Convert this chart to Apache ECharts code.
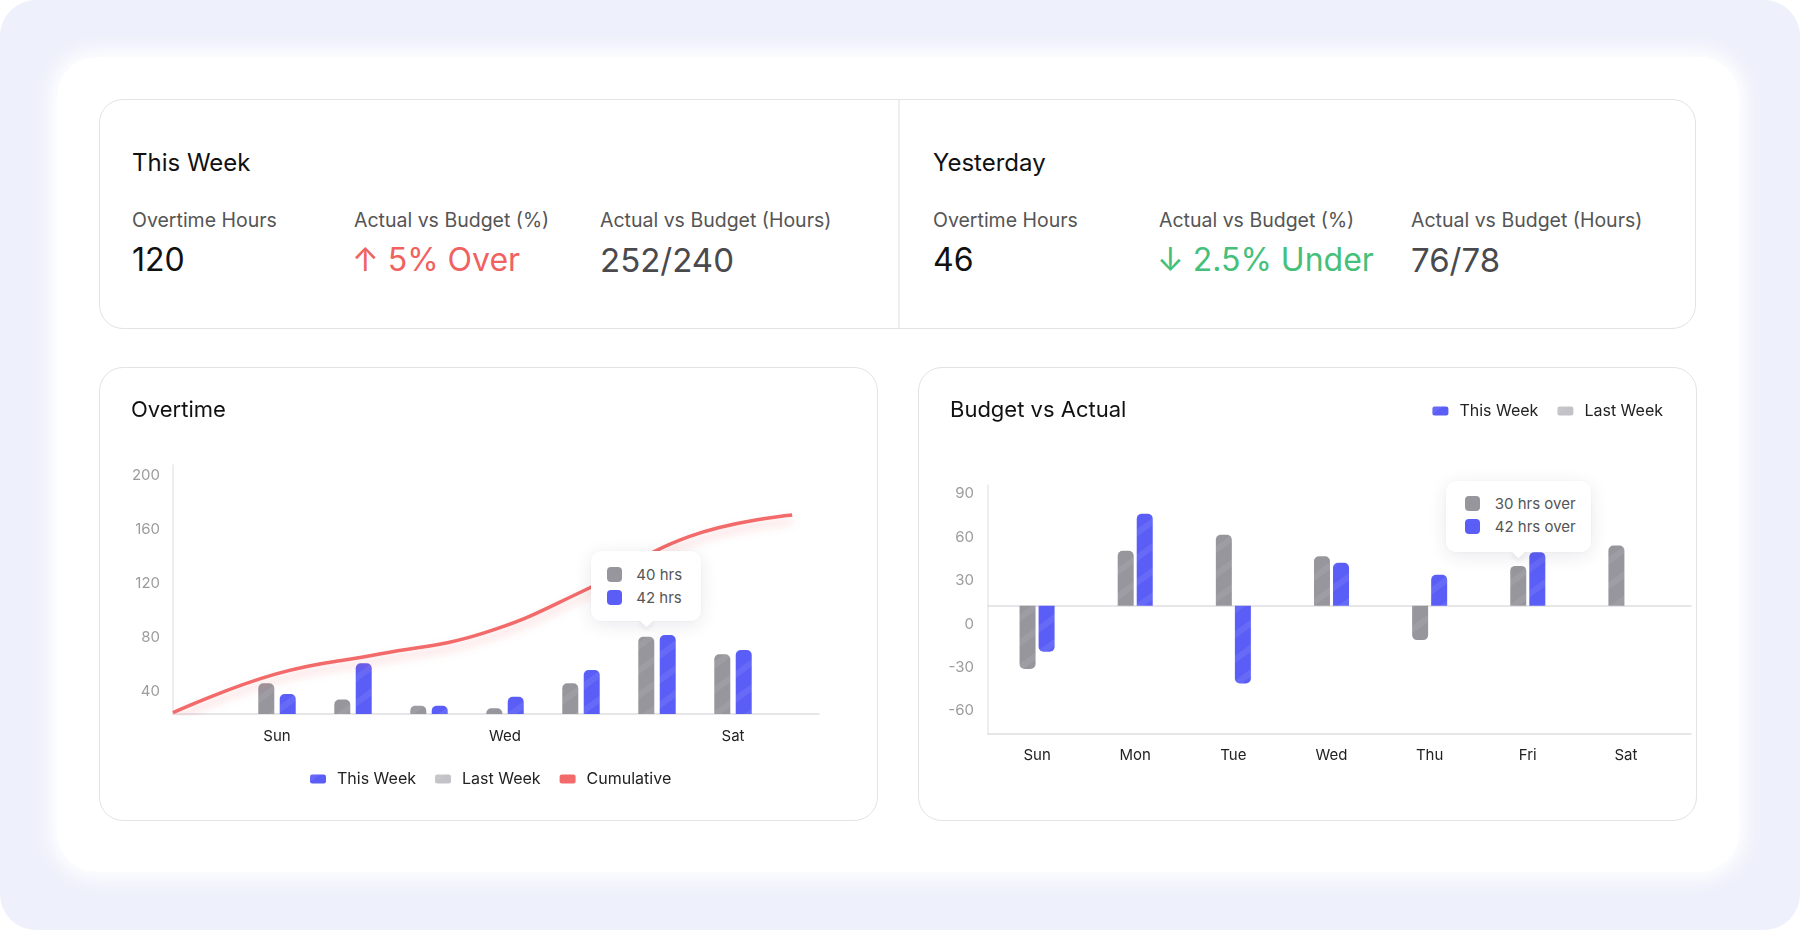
<!DOCTYPE html>
<html><head><meta charset="utf-8">
<script src="https://cdn.jsdelivr.net/npm/echarts@6/dist/echarts.min.js"></script>
<style>
html,body{margin:0;padding:0}
body{width:1800px;height:930px;background:#fff;font-family:Inter,'Noto Sans',sans-serif;overflow:hidden;position:relative}
.bg{position:absolute;left:0;top:0;width:1800px;height:930px;background:#eef0fb;border-radius:36px}
.panel{position:absolute;left:57px;top:57px;width:1682px;height:815px;background:#fff;border-radius:40px;box-shadow:0 0 18px 8px rgba(255,255,255,0.95)}
.card{position:absolute;background:#fff;border:1.5px solid #e3e3e7;border-radius:24px;box-sizing:border-box}
.t{position:absolute;white-space:nowrap}
.h{font-size:24px;color:#111;height:30px;line-height:30px}
.lbl{font-size:19.5px;color:#555;height:24px;line-height:24px}
.val{font-size:32px;height:40px;line-height:40px;color:#111}
.chart{position:absolute}
.tip{position:absolute;background:#fff;border-radius:10px;box-shadow:0 4px 18px rgba(40,40,80,0.10),0 0 3px rgba(0,0,0,0.05);font-size:15px;color:#555}
.tip .sq{position:absolute;width:15px;height:15px;border-radius:4px}
.tip .tx{position:absolute;white-space:nowrap;height:20px;line-height:20px}
.tip .ar{position:absolute;width:11px;height:11px;background:#fff;transform:rotate(45deg);box-shadow:3px 3px 5px rgba(40,40,80,0.06)}
</style></head>
<body>
<div class="bg"></div>
<div class="panel"></div>
<div class="card" style="left:99px;top:99px;width:1597px;height:230px"></div>
<div style="position:absolute;left:898px;top:100px;width:1.5px;height:228px;background:#efeff2"></div>

<div class="t h" style="left:132px;top:148px">This Week</div>
<div class="t lbl" style="left:132px;top:208px">Overtime Hours</div>
<div class="t lbl" style="left:354px;top:208px">Actual vs Budget (%)</div>
<div class="t lbl" style="left:600px;top:208px">Actual vs Budget (Hours)</div>
<div class="t val" style="left:132px;top:240px">120</div>
<div class="t val" style="left:352px;top:240px;color:#f0625f">↑ 5% Over</div>
<div class="t val" style="left:600px;top:240px;color:#4a4a4e;font-size:33px">252/240</div>

<div class="t h" style="left:933px;top:148px">Yesterday</div>
<div class="t lbl" style="left:933px;top:208px">Overtime Hours</div>
<div class="t lbl" style="left:1159px;top:208px">Actual vs Budget (%)</div>
<div class="t lbl" style="left:1411px;top:208px">Actual vs Budget (Hours)</div>
<div class="t val" style="left:933px;top:240px">46</div>
<div class="t val" style="left:1157px;top:240px;color:#45c07a">↓ 2.5% Under</div>
<div class="t val" style="left:1411px;top:240px;color:#4a4a4e;font-size:33px">76/78</div>

<div class="card" style="left:99px;top:367px;width:779px;height:454px"></div>
<div class="card" style="left:918px;top:367px;width:779px;height:454px"></div>
<div id="ot" class="chart" style="left:99px;top:367px;width:779px;height:454px"></div>
<div id="bva" class="chart" style="left:918px;top:367px;width:779px;height:454px"></div>

<script>
// ---------- data ----------
const days = ['Sun','Mon','Tue','Wed','Thu','Fri','Sat'];
const otThisWeek = [37.8, 60.5, 29.1, 35.8, 55.6, 81.5, 70.4];
const otLastWeek = [45.7, 33.8, 29.1, 27.2, 45.7, 80.2, 67.2];
const otCumulative = [24, 52.7, 67.4, 82.7, 115, 154.3, 170.4];
const otYTicks = [40, 80, 120, 160, 200];
const bvaThisWeek = [-31.8, 63.5, -53.8, 29.6, 21.3, 37, null];
const bvaLastWeek = [-43.8, 37.9, 49, 34.2, -23.8, 27.5, 41.6];
const bvaYTicks = [-60, -30, 0, 30, 60, 90];
const otTipText = ['40 hrs', '42 hrs'];
const bvaTipText = ['30 hrs over', '42 hrs over'];
const tipDayIndex = 5;

// ---------- style ----------
const FONT = 'Inter';
const BLUE = '#5b5ef6';
const GRAY = '#97969d';
const LEGEND_GRAY = '#c3c3c7';
const RED = '#f26a6a';
const AXIS = '#dedee2';
const decal = {color:'rgba(255,255,255,0.07)', dashArrayX:[1,0], dashArrayY:[6,14], rotation:-Math.PI/5};
const legendText = {fontFamily:FONT, fontSize:16, color:'#222', padding:[0,0,0,6]};

// ---------- Overtime chart ----------
const ot = echarts.init(document.getElementById('ot'));
ot.setOption({
  animation:false,
  textStyle:{fontFamily:FONT},
  title:{text:'Overtime', left:32, top:30, padding:0, textStyle:{fontFamily:FONT,fontSize:22,fontWeight:400,color:'#111',lineHeight:26}},
  legend:{
    data:[{name:'This Week',itemStyle:{color:BLUE}},{name:'Last Week',itemStyle:{color:LEGEND_GRAY}},{name:'Cumulative',itemStyle:{color:RED}}],
    left:211, top:404, padding:0, icon:'roundRect', itemWidth:16, itemHeight:9, itemGap:19,
    textStyle:legendText
  },
  grid:[
    {left:74, top:98, width:646, height:249},
    {left:140, top:98, width:532, height:249}
  ],
  xAxis:[
    {gridIndex:0, type:'value', min:0, max:6.26, axisLine:{show:true,onZero:false,lineStyle:{color:AXIS,width:1.5}}, axisTick:{show:false}, axisLabel:{show:false}, splitLine:{show:false}},
    {gridIndex:1, type:'category', data:days, axisLine:{show:false,onZero:false}, axisTick:{show:false},
     axisLabel:{interval:2, color:'#222', fontSize:15, margin:15, fontFamily:FONT}}
  ],
  yAxis:[
    {gridIndex:0, type:'value', min:23, max:207.4, axisLine:{show:true,onZero:false,lineStyle:{color:'#e8e8eb',width:1.5}}, axisTick:{show:false}, splitLine:{show:false},
     axisLabel:{customValues:otYTicks, color:'#9c9c9c', fontSize:15, margin:13, fontFamily:FONT}},
    {gridIndex:1, type:'value', min:23, max:207.4, show:false, splitLine:{show:false}}
  ],
  series:[
    {name:'Last Week', type:'bar', xAxisIndex:1, yAxisIndex:1, data:otLastWeek, barWidth:16, barGap:'34%',
     itemStyle:{color:GRAY, borderRadius:[5,5,0,0], decal:decal}},
    {name:'This Week', type:'bar', xAxisIndex:1, yAxisIndex:1, data:otThisWeek, barWidth:16, barGap:'34%',
     itemStyle:{color:BLUE, borderRadius:[5,5,0,0], decal:decal}},
    {name:'Cumulative', type:'line', xAxisIndex:0, yAxisIndex:0, data:otCumulative.map((v,i)=>[i,v]),
     smooth:0.45, symbol:'none', z:3, itemStyle:{color:RED},
     lineStyle:{color:RED, width:3.5, shadowColor:'rgba(242,106,106,0.35)', shadowBlur:10, shadowOffsetY:6}}
  ]
});

// ---------- Budget vs Actual chart ----------
const withRadius = arr => arr.map(v => v == null ? null : ({value:v, itemStyle:{borderRadius: v < 0 ? [0,0,5,5] : [5,5,0,0]}}));
const bva = echarts.init(document.getElementById('bva'));
bva.setOption({
  animation:false,
  textStyle:{fontFamily:FONT},
  title:{text:'Budget vs Actual', left:32, top:30, padding:0, textStyle:{fontFamily:FONT,fontSize:22,fontWeight:400,color:'#111',lineHeight:26}},
  legend:{
    data:[{name:'This Week',itemStyle:{color:BLUE}},{name:'Last Week',itemStyle:{color:LEGEND_GRAY}}],
    right:34, top:36, padding:0, icon:'roundRect', itemWidth:16, itemHeight:9, itemGap:19,
    textStyle:legendText
  },
  grid:[
    {left:70, top:118, width:703, height:249},
    {left:70, top:118, width:687, height:249}
  ],
  xAxis:[
    {gridIndex:0, type:'value', min:0, max:1, position:'bottom', axisLine:{show:true,onZero:false,lineStyle:{color:AXIS,width:1.5}}, axisTick:{show:false}, axisLabel:{show:false}, splitLine:{show:false}},
    {gridIndex:0, type:'value', min:0, max:1, position:'bottom', axisLine:{show:true,onZero:true,onZeroAxisIndex:1,lineStyle:{color:AXIS,width:1.5}}, axisTick:{show:false}, axisLabel:{show:false}, splitLine:{show:false}},
    {gridIndex:1, type:'category', data:days, axisLine:{show:false,onZero:false}, axisTick:{show:false},
     axisLabel:{color:'#222', fontSize:15, margin:14, fontFamily:FONT}}
  ],
  yAxis:[
    {gridIndex:0, type:'value', min:-76, max:96.1, axisLine:{show:true,onZero:false,lineStyle:{color:'#e8e8eb',width:1.5}}, axisTick:{show:false}, splitLine:{show:false},
     axisLabel:{customValues:bvaYTicks, color:'#9c9c9c', fontSize:15, margin:14, fontFamily:FONT}},
    {gridIndex:0, type:'value', min:-88.7, max:83.4, show:false, splitLine:{show:false}},
    {gridIndex:1, type:'value', min:-88.7, max:83.4, show:false, splitLine:{show:false}}
  ],
  series:[
    {name:'Last Week', type:'bar', xAxisIndex:2, yAxisIndex:2, data:withRadius(bvaLastWeek), barWidth:16, barGap:'19%',
     itemStyle:{color:GRAY, decal:decal}},
    {name:'This Week', type:'bar', xAxisIndex:2, yAxisIndex:2, data:withRadius(bvaThisWeek), barWidth:16, barGap:'19%',
     itemStyle:{color:BLUE, decal:decal}}
  ]
});

// ---------- tooltip-like callouts, placed from the bar layout ----------
function barTop(chart, seriesIndex, idx) {
  const data = chart.getModel().getSeriesByIndex(seriesIndex).getData();
  const l = data.getItemLayout(idx);
  return {cx: l.x + l.width / 2, top: Math.min(l.y, l.y + l.height)};
}
function makeTip(chartEl, chart, texts, opt) {
  const b = barTop(chart, 0, tipDayIndex);
  const ox = chartEl.offsetLeft, oy = chartEl.offsetTop;
  const tip = document.createElement('div');
  tip.className = 'tip';
  const left = ox + b.cx - opt.w / 2;
  const top = oy + b.top - opt.gap - opt.h;
  tip.style.cssText = `left:${left}px;top:${top}px;width:${opt.w}px;height:${opt.h}px`;
  const ar = document.createElement('div');
  ar.className = 'ar';
  ar.style.left = (opt.w / 2 - 5.5) + 'px';
  ar.style.top = (opt.h - 6.5) + 'px';
  tip.appendChild(ar);
  const cover = document.createElement('div');
  cover.style.cssText = `position:absolute;left:0;top:0;width:${opt.w}px;height:${opt.h}px;background:#fff;border-radius:10px`;
  tip.appendChild(cover);
  const cols = [GRAY, BLUE];
  texts.forEach((s, i) => {
    const sq = document.createElement('div');
    sq.className = 'sq';
    sq.style.cssText = `left:${opt.sq}px;top:${opt.rows[i] - 7.5}px;background:${cols[i]}`;
    tip.appendChild(sq);
    const tx = document.createElement('div');
    tx.className = 'tx';
    tx.textContent = s;
    tx.style.cssText = `left:${opt.tx}px;top:${opt.rows[i] - 10}px`;
    tip.appendChild(tx);
  });
  document.body.appendChild(tip);
}
makeTip(document.getElementById('ot'), ot, otTipText, {w:110, h:70, gap:16, rows:[24,47], sq:16, tx:45});
makeTip(document.getElementById('bva'), bva, bvaTipText, {w:145, h:71, gap:14, rows:[23,46], sq:19, tx:49});
</script>
</body></html>
